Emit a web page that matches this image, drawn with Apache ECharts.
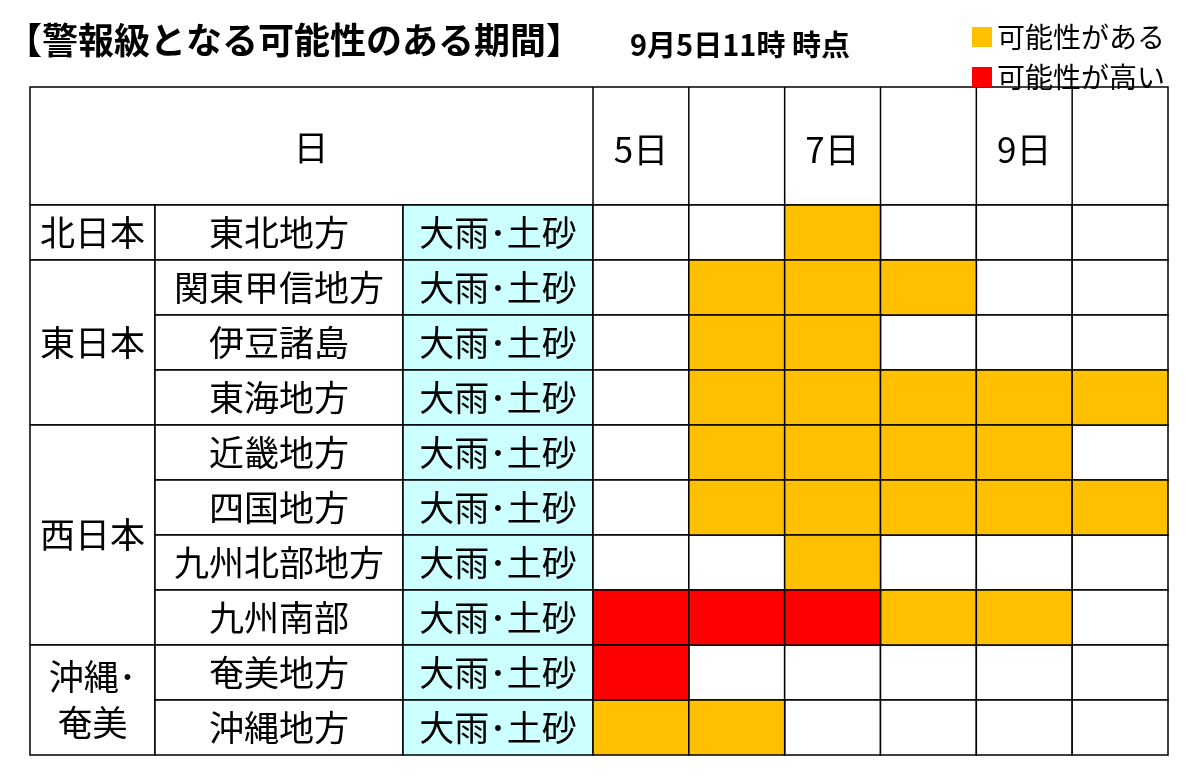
<!DOCTYPE html>
<html><head><meta charset="utf-8">
<script src="https://cdn.jsdelivr.net/npm/echarts@6/dist/echarts.min.js"></script>
<style>html,body{margin:0;padding:0;background:#fff}#c{width:1200px;height:776px}</style>
</head><body><div id="c"></div>
<script>
const days = ['5日','6日','7日','8日','9日','10日'];
const areas = ['東北地方','関東甲信地方','伊豆諸島','東海地方','近畿地方','四国地方','九州北部地方','九州南部','奄美地方','沖縄地方'];
const hazards = ['大雨･土砂','大雨･土砂','大雨･土砂','大雨･土砂','大雨･土砂','大雨･土砂','大雨･土砂','大雨･土砂','大雨･土砂','大雨･土砂'];
const regions = [['北日本',0,0],['東日本',1,3],['西日本',4,7],['沖縄･\n奄美',8,9]];
// 0 none, 1 可能性がある, 2 可能性が高い
const levels = [
  [0,0,1,0,0,0],
  [0,1,1,1,0,0],
  [0,1,1,0,0,0],
  [0,1,1,1,1,1],
  [0,1,1,1,1,0],
  [0,1,1,1,1,1],
  [0,0,1,0,0,0],
  [2,2,2,1,1,0],
  [2,0,0,0,0,0],
  [1,1,0,0,0,0]
];
const FONT = '"Noto Sans CJK JP", sans-serif';
const cellData = lv => { const out=[]; levels.forEach((r,y)=>r.forEach((v,x)=>{ if(v===lv) out.push([x,y]); })); return out; };
function cellRender(fill){
  return function(params, api){
    const c = api.coord([api.value(0), api.value(1)]);
    const s = api.size([1,1]);
    return {type:'rect', shape:{x:c[0]-s[0]/2, y:c[1]-s[1]/2, width:s[0], height:s[1]},
      style:{fill: fill, stroke:'#000', lineWidth:1.5}};
  };
}
function textCellRender(fill, names){
  return function(params, api){
    const c = api.coord([0, api.value(1)]);
    const s = api.size([1,1]);
    return {type:'group', children:[
      {type:'rect', shape:{x:c[0]-s[0]/2, y:c[1]-s[1]/2, width:s[0], height:s[1]}, style:{fill:fill, stroke:'#000', lineWidth:1.5}},
      {type:'text', x:c[0], y:c[1], style:{text:names[api.value(1)], fill:'#000', font:'35px '+FONT, align:'center', verticalAlign:'middle'}}
    ]};
  };
}
const grids = [
  {left:30, width:125, top:205, bottom:21},
  {left:155, width:248, top:205, bottom:21},
  {left:403, width:190, top:205, bottom:21},
  {left:593, width:575, top:205, bottom:21}
];
const rowIdx = areas.map((a,i)=>i);
const xAxes = [0,1,2].map(g=>({gridIndex:g, type:'category', data:['c'], show:false}));
xAxes.push({gridIndex:3, type:'category', data:days, position:'top', axisLine:{show:false}, axisTick:{show:false},
  axisLabel:{fontSize:35, color:'#000', fontFamily:FONT, margin:38}});
const yAxes = [0,1,2,3].map(g=>({gridIndex:g, type:'category', data:rowIdx.map(String), inverse:true, show:false}));
const chart = echarts.init(document.getElementById('c'));
chart.setOption({
  animation:false,
  grid: grids, xAxis: xAxes, yAxis: yAxes,
  legend:{data:['可能性がある','可能性が高い'], orient:'vertical', right:30, top:18, itemGap:12, itemWidth:20, itemHeight:20, icon:'rect',
    textStyle:{fontSize:28, color:'#000', fontFamily:FONT}, selectedMode:false},
  graphic:[
    {type:'text', left:6, top:22, style:{text:'【警報級となる可能性のある期間】', font:'bold 36px '+FONT, fill:'#000'}},
    {type:'text', left:630, top:30, style:{text:'9月5日11時 時点', font:'bold 29px '+FONT, fill:'#000'}},
    {type:'rect', shape:{x:30, y:87, width:1138, height:118}, style:{fill:'none', stroke:'#000', lineWidth:1.5}},
    {type:'text', x:311, y:148, style:{text:'日', font:'35px '+FONT, fill:'#000', align:'center', verticalAlign:'middle'}},
    ...[0,1,2,3,4,5].map(i=>({type:'line', shape:{x1:593+i*575/6, y1:87, x2:593+i*575/6, y2:205}, style:{stroke:'#000', lineWidth:1.5}}))
  ],
  series:[
    {type:'custom', xAxisIndex:0, yAxisIndex:0, data:regions.map(r=>[0,r[1],r[2],r[0]]),
      renderItem:function(params, api){
        const a = api.coord([0, api.value(1)]), b = api.coord([0, api.value(2)]);
        const s = api.size([1,1]);
        const top = a[1]-s[1]/2, bot = b[1]+s[1]/2;
        return {type:'group', children:[
          {type:'rect', shape:{x:a[0]-s[0]/2, y:top, width:s[0], height:bot-top}, style:{fill:'#fff', stroke:'#000', lineWidth:1.5}},
          {type:'text', x:a[0], y:(top+bot)/2, style:{text:regions[params.dataIndex][0], fill:'#000', font:'35px '+FONT, align:'center', verticalAlign:'middle', lineHeight:46}}
        ]};
      }},
    {type:'custom', xAxisIndex:1, yAxisIndex:1, data:rowIdx.map(i=>[0,i]), renderItem:textCellRender('#fff', areas)},
    {type:'custom', xAxisIndex:2, yAxisIndex:2, data:rowIdx.map(i=>[0,i]), renderItem:textCellRender('#CCFFFF', hazards)},
    {type:'custom', xAxisIndex:3, yAxisIndex:3, data:cellData(0), renderItem:cellRender('#fff')},
    {name:'可能性がある', type:'custom', xAxisIndex:3, yAxisIndex:3, data:cellData(1), color:'#FFC000', renderItem:cellRender('#FFC000')},
    {name:'可能性が高い', type:'custom', xAxisIndex:3, yAxisIndex:3, data:cellData(2), color:'#FF0000', renderItem:cellRender('#FF0000')}
  ]
});
</script></body></html>
